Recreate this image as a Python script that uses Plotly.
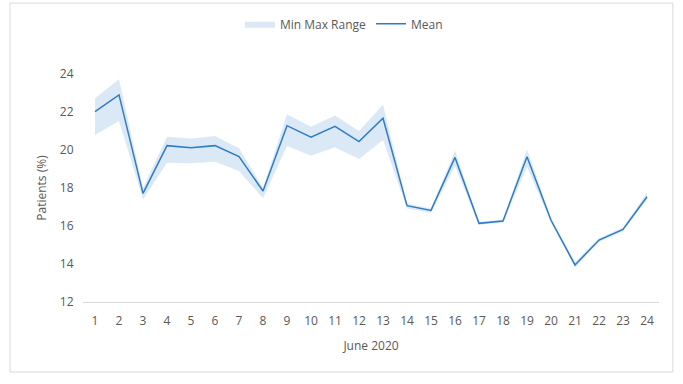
import plotly.graph_objects as go

days = list(range(1, 25))
mean_vals = [22.02, 22.90, 17.72, 20.23, 20.12, 20.23, 19.65, 17.84, 21.28, 20.68, 21.25, 20.44,
             21.67, 17.07, 16.82, 19.61, 16.14, 16.26, 19.65, 16.30, 13.95, 15.26, 15.82, 17.54]
upper_vals = [22.72, 23.72, 18.00, 20.70, 20.61, 20.74, 20.09, 18.00, 21.88, 21.23, 21.81, 21.00,
              22.40, 17.18, 16.92, 19.96, 16.22, 16.34, 20.04, 16.42, 14.10, 15.36, 15.92, 17.75]
lower_vals = [20.79, 21.53, 17.40, 19.33, 19.30, 19.38, 18.89, 17.46, 20.21, 19.70, 20.14, 19.53,
              20.53, 16.92, 16.70, 19.15, 16.06, 16.18, 19.10, 16.20, 13.80, 15.16, 15.72, 17.40]
y_ticks = [12, 14, 16, 18, 20, 22, 24]

band_color = "rgba(189,215,238,0.55)"
line_color = "#2E7CC4"
text_color = "#595959"
font_family = "Open Sans, Liberation Sans, sans-serif"

fig = go.Figure()
fig.add_trace(go.Scatter(x=days, y=lower_vals, mode="lines", line=dict(width=0, color=band_color),
                         showlegend=False, hoverinfo="skip"))
fig.add_trace(go.Scatter(x=days, y=upper_vals, mode="lines", line=dict(width=0, color=band_color),
                         fill="tonexty", fillcolor=band_color, name="Min Max Range"))
fig.add_trace(go.Scatter(x=days, y=mean_vals, mode="lines", line=dict(width=1.5, color=line_color),
                         name="Mean"))

fig.update_layout(
    width=683, height=384,
    margin=dict(l=83, r=24, t=74, b=82, autoexpand=False),
    paper_bgcolor="white", plot_bgcolor="white",
    font=dict(family=font_family, size=12, color=text_color),
    legend=dict(orientation="h", x=0.453, xanchor="center", y=1.22, yanchor="middle",
                traceorder="normal", font=dict(size=12, color=text_color), itemwidth=30),
    xaxis=dict(range=[0.5, 24.5], tickmode="array", tickvals=days, ticktext=[str(d) for d in days],
               showgrid=False, zeroline=False, showline=True, linecolor="#D9D9D9", linewidth=1,
               ticks="outside", ticklen=8, tickcolor="rgba(0,0,0,0)",
               title=dict(text="June 2020", font=dict(size=12, color=text_color), standoff=13),
               tickfont=dict(size=12, color=text_color)),
    yaxis=dict(range=[12, 24], tickmode="array", tickvals=y_ticks, showgrid=False, zeroline=False,
               showline=False, ticks="outside", ticklen=6, tickcolor="rgba(0,0,0,0)",
               title=dict(text="Patients (%)", font=dict(size=12, color=text_color), standoff=10),
               tickfont=dict(size=12, color=text_color)),
    shapes=[dict(type="rect", xref="paper", yref="paper", x0=-0.1267, x1=1.024, y0=-0.307, y1=1.311,
                 line=dict(color="#D9D9D9", width=1), fillcolor="rgba(0,0,0,0)", layer="below")],
)

fig.write_html("out.html")
